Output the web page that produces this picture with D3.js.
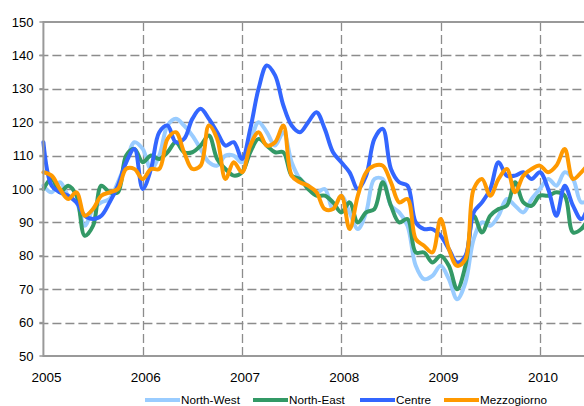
<!DOCTYPE html>
<html>
<head>
<meta charset="utf-8">
<script src="https://cdn.jsdelivr.net/npm/d3@7"></script>
<style>
	body { margin: 0; background: #fff; }
	svg { display: block; font-family: 'Liberation Sans', Arial, sans-serif; }
</style>
</head>
<body>
<div id="chart"></div>
<script>
// monthly index values, Jan 2005 onwards
const startYear = 2005;
const yearTicks = [2005, 2006, 2007, 2008, 2009, 2010];
const valueTicks = [50, 60, 70, 80, 90, 100, 110, 120, 130, 140, 150];

const seriesNames = ['North-West', 'North-East', 'Centre', 'Mezzogiorno'];
const seriesColors = ['#99ccff', '#339966', '#3366ff', '#ff9900'];

const northWest = [
	101, 99, 102, 98, 96, 89, 94, 96, 97, 102, 108, 114,
	112, 106, 110, 119, 121, 119, 116, 112, 108, 107, 110, 110,
	108, 114, 120, 117, 113, 117, 108, 103, 101, 99, 100, 94,
	98, 93, 88, 93, 103, 103, 95, 93, 89, 77, 73, 74,
	77, 73, 67, 72, 85, 90, 89, 92, 97, 95, 93, 97,
	100, 103, 101, 105, 103, 96, 97
];
const northEast = [
	100, 103, 99, 101, 98, 86, 89, 101, 99, 99, 110, 112,
	108, 110, 109, 111, 114, 111, 111, 113, 116, 109, 106, 104,
	105, 111, 115, 113, 111, 111, 104, 103, 100, 98, 98, 96,
	93, 96, 90, 93, 94, 102, 95, 90, 91, 81, 81, 78,
	80, 77, 70, 77, 92, 87, 92, 94, 95, 102, 96, 95,
	98, 98, 99, 98, 87, 88, 92
];
const centre = [
	114, 101, 99, 98, 96, 92, 91, 92, 96, 101, 108, 112,
	100, 106, 117, 119, 114, 115, 121, 124, 121, 117, 113, 114,
	109, 118, 130, 137, 134, 125, 119, 117, 120, 123, 118, 111,
	108, 105, 100, 104, 115, 118, 106, 102, 101, 90, 88, 88,
	86, 82, 78, 80, 93, 96, 100, 108, 104, 104, 105, 103,
	105, 100, 92, 101, 95, 91, 96
];
const mezzogiorno = [
	105, 104, 100, 97, 99, 92, 94, 98, 99, 100, 106, 106,
	103, 106, 106, 115, 117, 111, 106, 107, 119, 115, 103, 108,
	105, 113, 117, 113, 114, 119, 104, 102, 101, 99, 94, 94,
	98, 88, 98, 105, 107, 107, 102, 96, 97, 85, 83, 81,
	91, 82, 77, 79, 100, 103, 98, 103, 106, 99, 104, 106,
	107, 105, 107, 112, 103, 105, 108
];

const seriesValues = [northWest, northEast, centre, mezzogiorno];

const width = 584;
const height = 406;
const margin = { top: 22, left: 43.4, bottom: 50 };

const svg = d3.select('#chart')
	.append('svg')
	.attr('width', width)
	.attr('height', height);

const x = d3.scaleLinear()
	.domain([2005, 2010])
	.range([margin.left, margin.left + 5 * 99.3]);

const y = d3.scaleLinear()
	.domain([50, 150])
	.range([height - margin.bottom, margin.top]);

const plotRight = width;
const plotBottom = y(50);

// grid
svg.append('g')
	.attr('class', 'hgrid')
	.selectAll('line')
	.data(valueTicks.slice(1, -1))
	.enter()
	.append('line')
	.attr('x1', margin.left - 4)
	.attr('x2', plotRight)
	.attr('y1', (d) => Math.round(y(d)) + .5)
	.attr('y2', (d) => Math.round(y(d)) + .5)
	.attr('stroke', '#8c8c8c')
	.attr('stroke-width', 1.3)
	.attr('stroke-dasharray', '9,4');

svg.append('g')
	.attr('class', 'vgrid')
	.selectAll('line')
	.data(yearTicks.slice(1))
	.enter()
	.append('line')
	.attr('x1', (d) => Math.round(x(d)) + .5)
	.attr('x2', (d) => Math.round(x(d)) + .5)
	.attr('y1', margin.top)
	.attr('y2', plotBottom)
	.attr('stroke', '#8c8c8c')
	.attr('stroke-width', 1.3)
	.attr('stroke-dasharray', '9,4');

// lines
const line = d3.line()
	.x((d, i) => x(startYear + i / 12))
	.y((d) => y(d))
	.curve(d3.curveCatmullRom.alpha(0.5));

svg.append('g')
	.attr('class', 'lines')
	.selectAll('path')
	.data(seriesValues)
	.enter()
	.append('path')
	.attr('d', (d) => line(d))
	.attr('fill', 'none')
	.attr('stroke', (d, i) => seriesColors[i])
	.attr('stroke-width', 4)
	.attr('stroke-linejoin', 'round')
	.attr('stroke-linecap', 'round');

// frame
svg.append('line')
	.attr('x1', margin.left).attr('x2', plotRight)
	.attr('y1', margin.top).attr('y2', margin.top)
	.attr('stroke', '#999').attr('stroke-width', 2);
svg.append('line')
	.attr('x1', margin.left).attr('x2', plotRight)
	.attr('y1', plotBottom).attr('y2', plotBottom)
	.attr('stroke', '#999').attr('stroke-width', 2);
svg.append('line')
	.attr('x1', margin.left).attr('x2', margin.left)
	.attr('y1', margin.top - 1).attr('y2', plotBottom + 1)
	.attr('stroke', '#999').attr('stroke-width', 2);

// y tick marks and labels
svg.append('g')
	.selectAll('line')
	.data(valueTicks)
	.enter()
	.append('line')
	.attr('x1', margin.left - 4)
	.attr('x2', margin.left)
	.attr('y1', (d) => y(d))
	.attr('y2', (d) => y(d))
	.attr('stroke', '#999')
	.attr('stroke-width', 1.5);

svg.append('g')
	.attr('class', 'ylabels')
	.selectAll('text')
	.data(valueTicks)
	.enter()
	.append('text')
	.attr('x', 33.5)
	.attr('y', (d) => y(d))
	.attr('dy', '0.36em')
	.attr('text-anchor', 'end')
	.attr('font-size', '13px')
	.attr('fill', '#000')
	.text((d) => d);

svg.append('g')
	.attr('class', 'xlabels')
	.selectAll('text')
	.data(yearTicks)
	.enter()
	.append('text')
	.attr('x', (d) => x(d) + 3)
	.attr('y', 381.5)
	.attr('text-anchor', 'middle')
	.attr('font-size', '13.5px')
	.attr('fill', '#000')
	.text((d) => d);

// legend
const legendX = [145, 253, 360, 444];

const legend = svg.append('g')
	.attr('class', 'legend')
	.selectAll('g')
	.data(seriesNames)
	.enter()
	.append('g')
	.attr('transform', (d, i) => `translate(${legendX[i]}, 400)`);

legend.append('line')
	.attr('x1', 0)
	.attr('x2', 35)
	.attr('stroke', (d, i) => seriesColors[i])
	.attr('stroke-width', 4);

legend.append('text')
	.attr('x', 36)
	.attr('y', 4.3)
	.attr('font-size', '11.7px')
	.attr('fill', '#000')
	.text((d) => d);
</script>
</body>
</html>
